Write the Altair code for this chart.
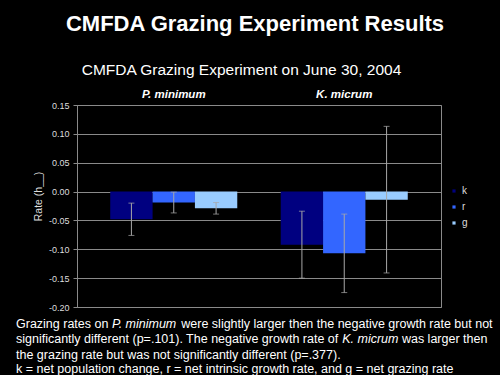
import altair as alt
import pandas as pd

# ---- data ----
species = ["P. minimum", "K. micrum"]
series = ["k", "r", "g"]
colors = ["#000080", "#3366FF", "#99CCFF"]
rate_p_minimum = [-0.048, -0.019, -0.029]
err_p_minimum = [0.028, 0.018, 0.010]
rate_k_micrum = [-0.092, -0.107, -0.014]
err_k_micrum = [0.058, 0.068, 0.127]
y_ticks = [-0.20, -0.15, -0.10, -0.05, 0.00, 0.05, 0.10, 0.15]

rows = []
for sp, vals, errs in [(species[0], rate_p_minimum, err_p_minimum),
                       (species[1], rate_k_micrum, err_k_micrum)]:
    for s, v, e in zip(series, vals, errs):
        rows.append({"species": sp, "series": s, "value": v,
                     "lo": v - e, "hi": v + e})
df = pd.DataFrame(rows)

FONT = "Liberation Sans"
GRID = "#8a8a8a"

x_axis = alt.Axis(orient="top", title=None, domain=False, ticks=False,
                  tickSize=0, labelPadding=8, labelAngle=0,
                  labelFontSize=11.5, labelFontWeight="bold",
                  labelFontStyle="italic", labelColor="white",
                  labelBaseline="alphabetic", grid=False)
x_scale = alt.Scale(paddingInner=0.255, paddingOuter=0.195)
y_axis = alt.Axis(values=y_ticks, title="Rate (h__)",
                  labelExpr="replace(format(datum.value, '.2f'), '\u2212', '-')",
                  labelOverlap=False, labelFontSize=9,
                  labelColor="#dddddd", labelPadding=4,
                  tickColor=GRID, tickSize=4, domainColor=GRID,
                  gridColor=GRID, grid=True,
                  titleFontSize=10.5, titleFontWeight="normal",
                  titleColor="#dddddd", titleAngle=-90,
                  titleX=-39, titleY=91, titleAlign="center",
                  titleBaseline="middle")
y_scale = alt.Scale(domain=[-0.2, 0.15], nice=False, zero=False)


def xenc():
    return alt.X("species:N", sort=species, scale=x_scale, axis=x_axis)


xo_enc = alt.XOffset("series:N", sort=series, scale=alt.Scale(paddingInner=0))

bars = alt.Chart(df).mark_bar().encode(
    x=xenc(),
    xOffset=xo_enc,
    y=alt.Y("value:Q", scale=y_scale, stack=None, axis=y_axis),
    y2=alt.datum(0),
    color=alt.Color("series:N", sort=series,
                    scale=alt.Scale(domain=series, range=colors),
                    legend=alt.Legend(title=None, orient="none", legendX=372,
                                      legendY=81, symbolType="square",
                                      symbolSize=10, symbolStrokeWidth=0,
                                      labelFontSize=10, labelColor="#dddddd",
                                      rowPadding=6, labelOffset=3)),
)

err_rule = alt.Chart(df).mark_rule(color="#a8a8a8", strokeWidth=1).encode(
    x=xenc(),
    xOffset=xo_enc,
    y=alt.Y("lo:Q", scale=y_scale, axis=y_axis),
    y2="hi:Q",
)

caps = alt.Chart(df).transform_fold(["lo", "hi"], as_=["end", "pos"]).mark_tick(
    color="#a8a8a8", thickness=1, size=6
).encode(
    x=xenc(),
    xOffset=xo_enc,
    y=alt.Y("pos:Q", scale=y_scale, axis=y_axis),
)

one = alt.Data(values=[{"a": 1}])


def txt(text, x, y, size, weight="normal", style="normal", align="left", color="white"):
    return alt.Chart(one).mark_text(
        font=FONT, fontSize=size, fontWeight=weight, fontStyle=style,
        align=align, baseline="alphabetic", color=color
    ).encode(x=alt.value(x), y=alt.value(y), text=alt.value(text))


# left = 77, top = 105 offsets
annotations = [
    txt("CMFDA Grazing Experiment Results", 178, -74.3, 22, weight="bold", align="center"),
    txt("CMFDA Grazing Experiment on June 30, 2004", 164.5, -30, 15.5, align="center"),
    txt("Grazing rates on", -61, 223.3, 12.5),
    txt("P. minimum", 34.9, 223.3, 12.5, style="italic"),
    txt("were slightly larger then the negative growth rate but not", 104.3, 223.3, 12.5),
    txt("significantly different (p=.101). The negative growth rate of", -61, 238.3, 12.5),
    txt("K. micrum", 265.2, 238.3, 12.5, style="italic"),
    txt("was larger then", 324.9, 238.3, 12.5),
    txt("the grazing rate but was not significantly different (p=.377).", -61, 253.7, 12.5),
    txt("k = net population change, r = net intrinsic growth rate, and g = net grazing rate", -61, 268.3, 12.5),
]

chart = alt.layer(bars, err_rule, caps, *annotations).properties(
    width=364, height=202,
    padding={"left": 77, "top": 105, "right": 59, "bottom": 68},
    autosize=alt.AutoSizeParams(type="none"),
    background="black",
).configure(font=FONT).configure_view(
    stroke=GRID, strokeWidth=1
)

chart.save("out.html", embed_options={"renderer": "svg", "actions": False})
